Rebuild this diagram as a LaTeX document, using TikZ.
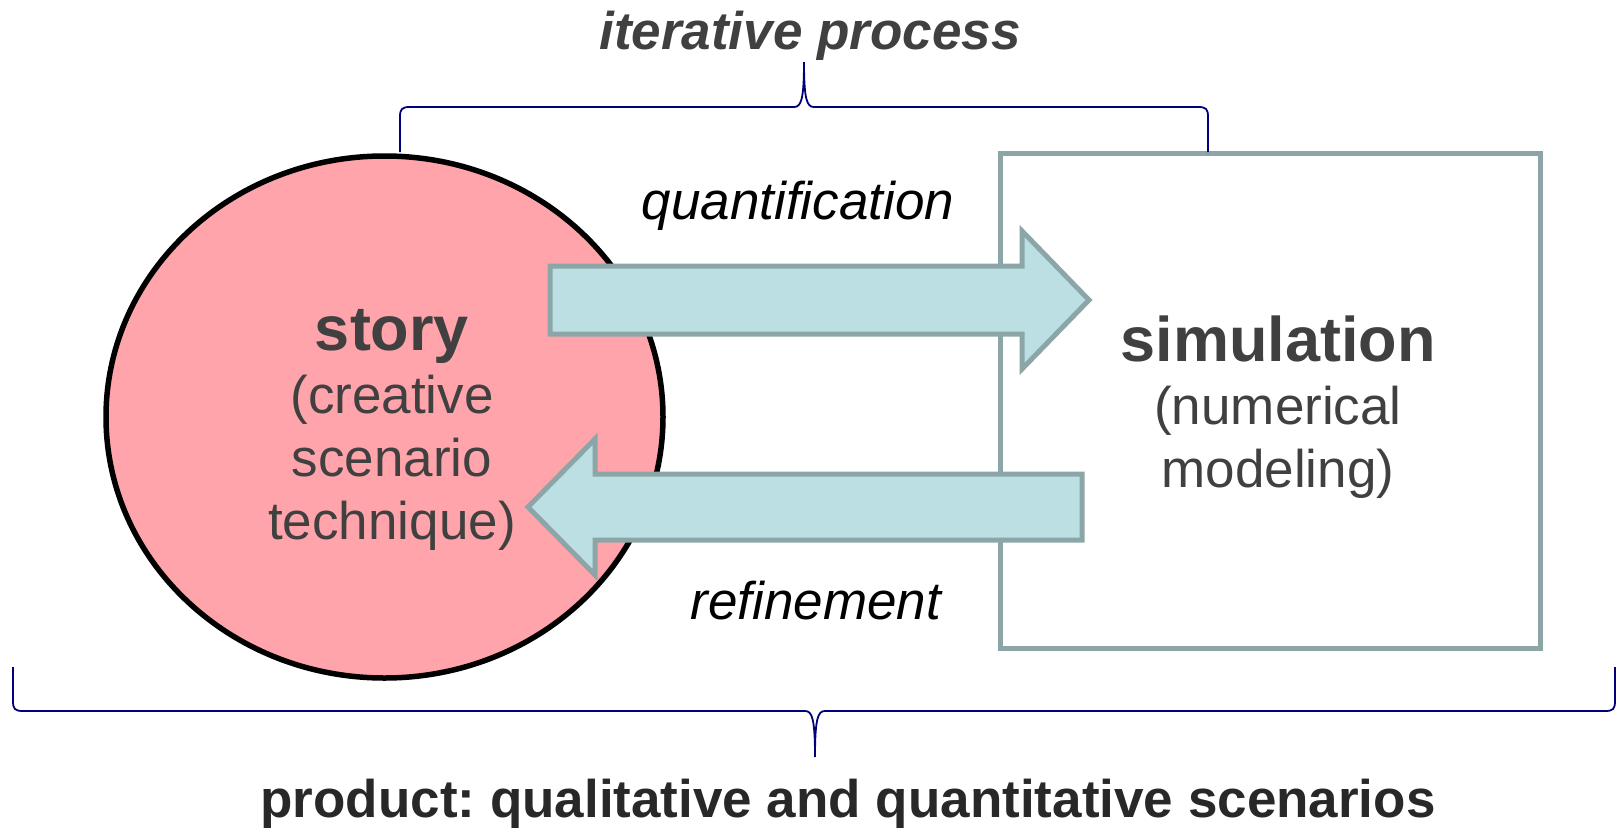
\documentclass[tikz,border=0pt]{standalone}
\usepackage{fontspec}
\setmainfont{Liberation Sans}
\usepackage{tikz}
\usetikzlibrary{shapes.geometric, positioning, calc}
\frenchspacing
\definecolor{storypink}{RGB}{255,164,171}
\definecolor{arrowfill}{RGB}{187,223,226}
\definecolor{slate}{RGB}{140,166,168}
\definecolor{textgray}{RGB}{64,64,64}
\definecolor{darktext}{RGB}{40,40,40}
\definecolor{bracenavy}{RGB}{0,0,120}
\newcommand{\headfont}{\fontsize{63}{63}\selectfont\bfseries}
\tikzset{
  storyblob/.style={ellipse, draw=black, fill=storypink, line width=5.5pt,
    minimum width=557pt, minimum height=522pt, inner sep=0pt},
  simbox/.style={rectangle, draw=slate, fill=white, line width=5pt,
    minimum width=540pt, minimum height=495pt, inner sep=0pt},
  fatarrow/.style={draw=slate, fill=arrowfill, line width=5pt, line join=miter},
  brace/.style={draw=bracenavy, line width=1.8pt},
  body/.style={font=\fontsize{53}{63}\selectfont, text=textgray, align=center, inner sep=0pt},
  flowlabel/.style={font=\fontsize{53}{63}\selectfont\itshape, text=black, inner sep=0pt}
}

\begin{document}
\begin{tikzpicture}[x=1pt, y=-1pt]
  \useasboundingbox (0,0) rectangle (1618,828);

  % Nodes
  \node[simbox] (sim) at (1270,400.5) {};
  \node[storyblob] (story) at (384.5,417) {};

  % Block arrows
  \draw[fatarrow] (550,266) -- (1022,266) -- (1022,231) -- (1089,300)
    -- (1022,369) -- (1022,334) -- (550,334) -- cycle;
  \draw[fatarrow] (1082,474) -- (595,474) -- (595,439) -- (528,507)
    -- (595,575) -- (595,540) -- (1082,540) -- cycle;

  % Texts (base anchor sits on the last line)
  \node[body, anchor=base] (storytext) at (392,539)
    {{\headfont story}\\(creative\\scenario\\technique)};
  \node[body, anchor=base] (simtext) at (1278,487)
    {{\headfont simulation}\\(numerical\\modeling)};
  \node[flowlabel, anchor=base] (quant) at (798,219) {quantification};
  \node[flowlabel, anchor=base] (refine) at (816,619) {refinement};
  \node[font=\fontsize{53}{63}\selectfont\bfseries\itshape, text=textgray,
    inner sep=0pt, anchor=base] (iter) at (810,49) {iterative process};
  \node[font=\fontsize{53}{63}\selectfont\bfseries, text=darktext,
    inner sep=0pt, anchor=base] (product) at (848,817)
    {product: qualitative and quantitative scenarios};

  % Braces
  \draw[brace] (400,152) -- (400,117) .. controls (400,109) and (402,107) .. (410,107)
    -- (794,107) .. controls (801,107) and (804,100) .. (804,62)
    .. controls (804,100) and (807,107) .. (814,107)
    -- (1198,107) .. controls (1206,107) and (1208,109) .. (1208,117) -- (1208,152);
  \draw[brace] (13,667) -- (13,701) .. controls (13,709) and (15,711) .. (23,711)
    -- (805,711) .. controls (812,711) and (815,718) .. (815,757)
    .. controls (815,718) and (818,711) .. (825,711)
    -- (1605,711) .. controls (1613,711) and (1615,709) .. (1615,701) -- (1615,667);

\end{tikzpicture}
\end{document}
